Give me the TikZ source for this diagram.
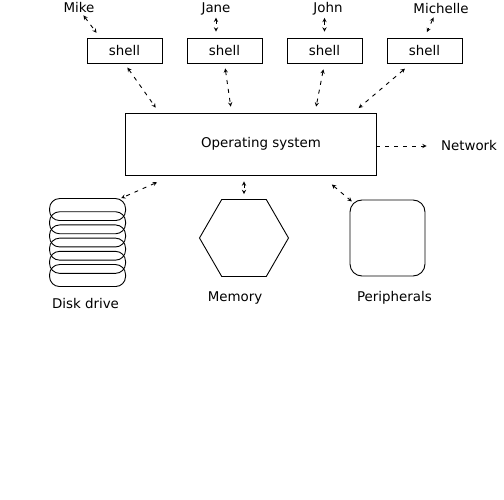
\documentclass[tikz,border=0pt]{standalone}
\usepackage{fontspec}
\setmainfont{DejaVu Sans}
\usepackage{tikz}
\usetikzlibrary{arrows,shapes}
\usetikzlibrary{shapes.geometric}
\usetikzlibrary{positioning}
\usetikzlibrary{calc}
\tikzset{
    >=stealth,
    shellbox/.style={draw=black, minimum width=75pt, minimum height=25pt, inner sep=0pt},
    osbox/.style={draw=black, minimum width=251pt, minimum height=62pt, inner sep=0pt},
    user/.style={inner sep=1pt},
    caption/.style={inner sep=1pt},
    link/.style={draw=black, <->, dash pattern=on 4pt off 5pt},
    flow/.style={draw=black, ->, dash pattern=on 4pt off 5pt},
    platter/.style={draw=black, rounded corners=10pt},
    hexa/.style={draw=black, regular polygon, regular polygon sides=6, minimum size=89pt, inner sep=0pt},
    device/.style={draw=black, rounded corners=12pt, minimum width=75pt, minimum height=76pt, inner sep=0pt}
}
\begin{document}
\begin{tikzpicture}[x=1pt,y=-1pt,line width=0.9pt,font=\fontsize{13.4}{16}\selectfont]
	\useasboundingbox (0,0) rectangle (504,500);
	% users and their shells
	\node[user] (mike) at (79,8) {Mike};
	\node[user] (jane) at (216,9) {Jane};
	\node[user] (john) at (328,9) {John};
	\node[user] (michelle) at (441,9) {Michelle};
	\node[shellbox] (shell1) at (124.5,50.5) {shell};
	\node[shellbox] (shell2) at (224.5,50.5) {shell};
	\node[shellbox] (shell3) at (324.5,50.5) {shell};
	\node[shellbox] (shell4) at (424.5,50.5) {shell};
	% kernel
	\node[osbox] (os) at (250.5,144) {};
	\node (ostext) at (261,144) {Operating system};
	\node[caption] (network) at (469,146) {Network};
	% devices
	\node[minimum width=76pt, minimum height=88pt, inner sep=0pt] (disk) at (88,243) {};
	\foreach \k in {0,...,5}
		\draw[platter] ([yshift=-\k*13.2pt]disk.north west) rectangle ++(76,22);
	\node[hexa] (memory) at (244,238) {};
	\node[device] (periph) at (387.5,238) {};
	\node[caption] (disklabel) at (85.5,304) {Disk drive};
	\node[caption] (memlabel) at (235,298) {Memory};
	\node[caption] (periphlabel) at (394.5,298) {Peripherals};
	% users -- shells
	\draw[link, shorten <=1pt, shorten >=6pt] (mike.-60) -- (shell1.152);
	\draw[link, shorten <=1pt, shorten >=6pt] (jane.south) -- (jane.south |- shell2.north);
	\draw[link, shorten <=1pt, shorten >=6pt] (john.south -| shell3.north) -- (shell3.north);
	\draw[link, shorten <=2pt, shorten >=6pt] (michelle.-135) -- (shell4.north);
	% shells -- kernel
	\draw[link, shorten <=5pt, shorten >=6pt] (shell1.south) -- (os.161);
	\draw[link, shorten <=5pt, shorten >=6pt] (shell2.south) -- (os.121);
	\draw[link, shorten <=6pt, shorten >=6pt] (shell3.south) -- (os.26);
	\draw[link, shorten <=8pt, shorten >=7pt] (shell4.-136) -- (os.17);
	% kernel -- devices
	\draw[flow, shorten >=13pt] (network.west -| os.east) -- (network.west);
	\draw[link, shorten <=17pt, shorten >=1pt] (os.-158) -- (disk.54);
	\draw[link, shorten <=6pt, shorten >=5pt] (memory.north |- os.south) -- (memory.north);
	\draw[link, shorten <=14pt, shorten >=-3pt] (os.-24) -- (periph.north west);
\end{tikzpicture}
\end{document}
